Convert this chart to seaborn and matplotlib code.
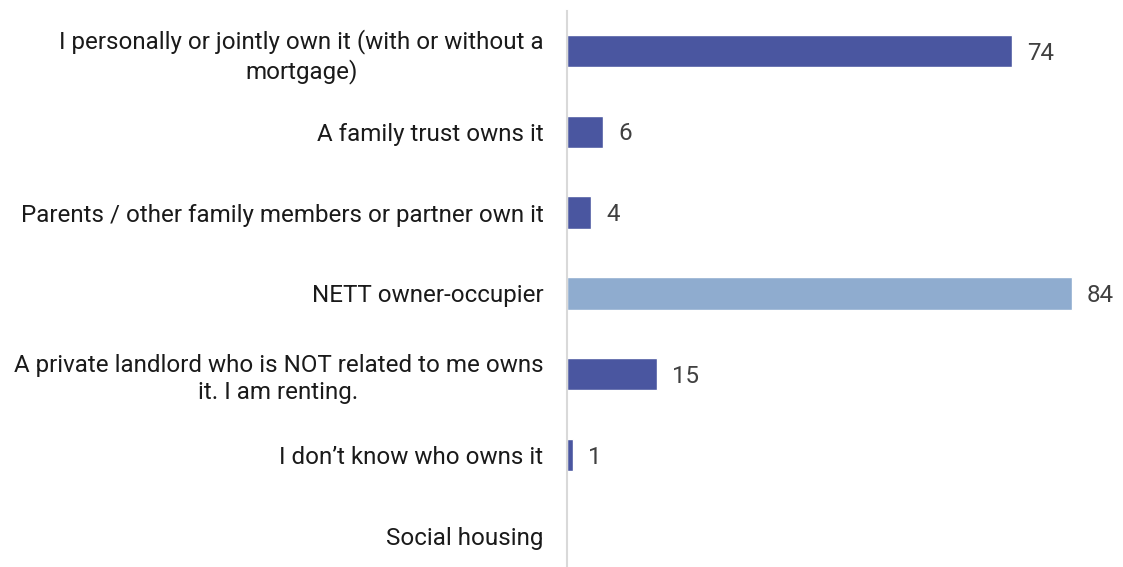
import numpy as np
import pandas as pd
import matplotlib
matplotlib.use("Agg")
import matplotlib.pyplot as plt
import seaborn as sns

categories = [
    "I personally or jointly own it (with or without a\nmortgage)",
    "A family trust owns it",
    "Parents / other family members or partner own it",
    "NETT owner-occupier",
    "A private landlord who is NOT related to me owns\nit. I am renting.",
    "I don\u2019t know who owns it",
    "Social housing",
]
values = [74, 6, 4, 84, 15, 1, np.nan]
groups = ["detail", "detail", "detail", "nett", "detail", "detail", "detail"]

palette = {"detail": "#4A56A0", "nett": "#8FACCF"}

sns.set_theme(style="white")
plt.rcParams["font.family"] = ["Roboto", "DejaVu Sans"]

df = pd.DataFrame({"category": categories, "value": values, "group": groups})

fig = plt.figure(figsize=(11.23, 5.67), dpi=100)
ax = fig.add_axes([567 / 1123, 0.0, 1 - 567 / 1123, 1 - 10.6 / 567])

sns.barplot(data=df, y="category", x="value", hue="group", palette=palette,
            order=categories, dodge=False, width=0.4, legend=False, ax=ax,
            saturation=1)

ax.set_xlim(0, (1123 - 567) / 6.01)
ax.set_ylim(6.384, -0.5)
ax.set_xlabel("")
ax.set_ylabel("")
ax.set_xticks([])
ax.tick_params(axis="y", length=0, pad=17, labelsize=17.4, labelcolor="#1a1a1a")
for lbl in ax.get_yticklabels():
    lbl.set_horizontalalignment("right")
    lbl.set_multialignment("center")
    lbl.set_linespacing(1.25)

for side in ["top", "right", "bottom"]:
    ax.spines[side].set_visible(False)
ax.spines["left"].set_color("#D9D9D9")
ax.spines["left"].set_linewidth(1.5)

for i, v in enumerate(values):
    if not np.isnan(v):
        ax.annotate(f"{v:g}", xy=(v, i), xytext=(11, -1.5), textcoords="offset points",
                    va="center", ha="left", fontsize=17.4, color="#404040")

fig.savefig("out.png", dpi=100)
